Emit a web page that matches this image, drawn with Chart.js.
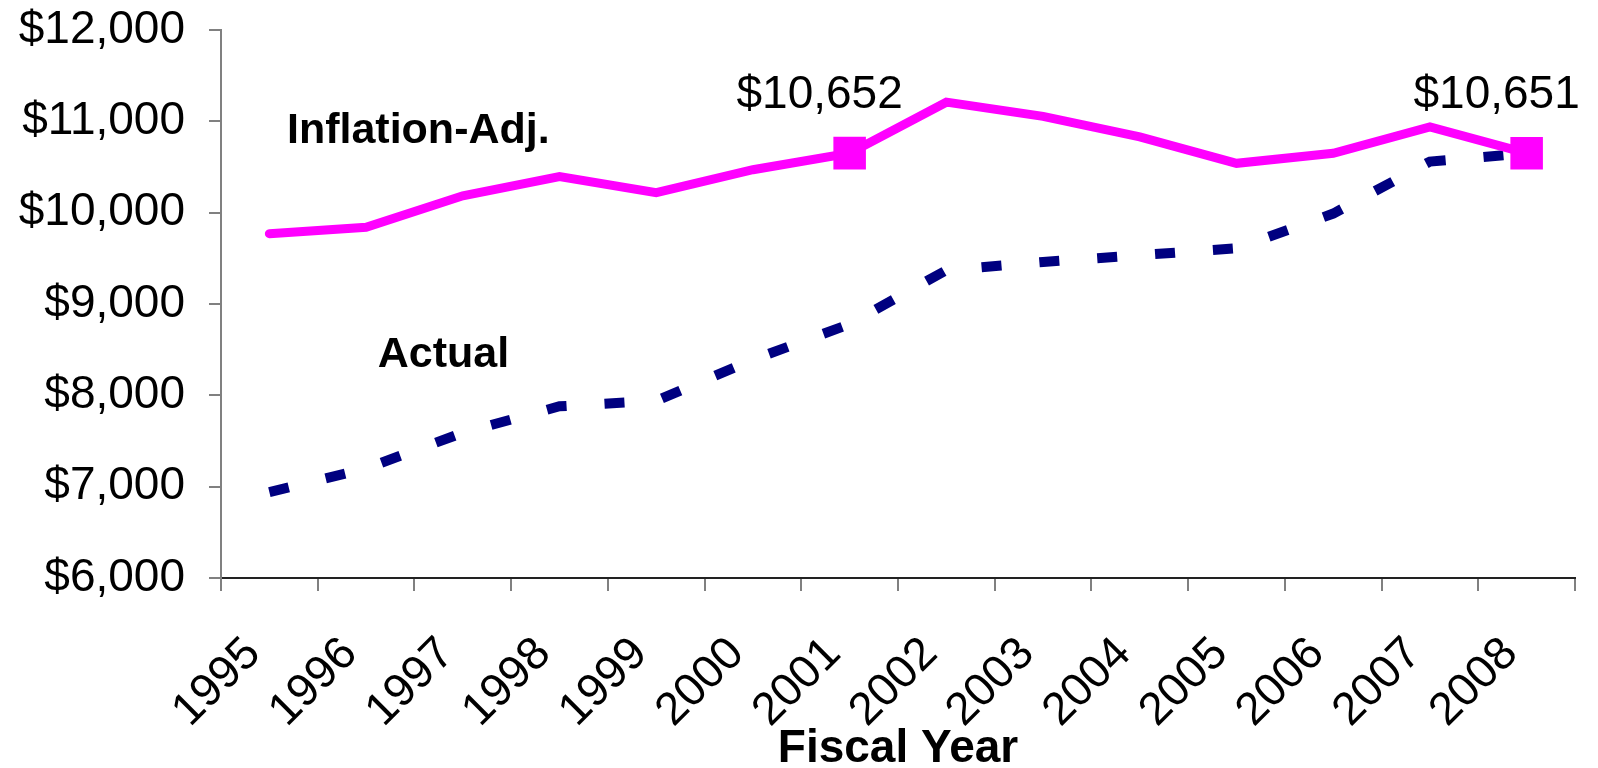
<!DOCTYPE html>
<html>
<head>
<meta charset="utf-8">
<title>Fiscal Year chart</title>
<script src="https://cdn.jsdelivr.net/npm/chart.js@4.4.1/dist/chart.umd.min.js"></script>
<style>
  html, body { margin: 0; padding: 0; background: #fff; }
</style>
</head>
<body>
<canvas id="lineChart" width="1598" height="768"></canvas>
<script>
// data
const years = ['1995', '1996', '1997', '1998', '1999', '2000', '2001',
               '2002', '2003', '2004', '2005', '2006', '2007', '2008'];
const inflationAdj = [9770, 9840, 10185, 10395, 10220, 10470, 10652,
                      11210, 11055, 10830, 10540, 10650, 10940, 10651];
const actual = [6940, 7200, 7590, 7880, 7940, 8390, 8780,
                9370, 9460, 9535, 9610, 9990, 10560, 10651];
const labelledYears = ['2001', '2008'];
const yMin = 6000;
const yMax = 12000;
const yStep = 1000;

const FONT = "'Liberation Sans', Arial, sans-serif";
const money = v => '$' + v.toLocaleString('en-US');

// text tags next to the lines (x as category index, y in dollars)
const seriesTags = [
    { text: 'Inflation-Adj.', at: 1.54, value: 10760 },
    { text: 'Actual', at: 1.80, value: 8310 }
];

const tagPlugin = {
    id: 'tags',
    afterDatasetsDraw(chart) {
        const ctx = chart.ctx;
        const x = chart.scales.x;
        const y = chart.scales.y;
        ctx.save();
        ctx.fillStyle = '#000';

        // bold series names
        ctx.font = 'bold 43px ' + FONT;
        ctx.textAlign = 'center';
        ctx.textBaseline = 'alphabetic';
        seriesTags.forEach(t => {
            ctx.fillText(t.text, x.getPixelForValue(t.at), y.getPixelForValue(t.value));
        });

        // value labels over the marked points
        ctx.font = '46px ' + FONT;
        const meta = chart.getDatasetMeta(0);
        years.forEach((yr, i) => {
            if (!labelledYears.includes(yr)) return;
            const pt = meta.data[i];
            ctx.fillText(money(inflationAdj[i]), pt.x - 30, pt.y - 45);
        });
        ctx.restore();
    }
};

const data = {
    labels: years,
    datasets: [{
        label: 'Inflation-Adj.',
        data: inflationAdj,
        borderColor: '#FF00FF',
        backgroundColor: '#FF00FF',
        borderWidth: 9,
        borderCapStyle: 'round',
        borderJoinStyle: 'miter',
        pointStyle: 'rect',
        pointRadius: years.map(yr => labelledYears.includes(yr) ? 23 : 0),
        pointBorderWidth: 0,
        pointBackgroundColor: '#FF00FF',
        tension: 0
    }, {
        label: 'Actual',
        data: actual,
        borderColor: '#000080',
        borderWidth: 10,
        borderDash: [20, 38],
        borderCapStyle: 'butt',
        borderJoinStyle: 'miter',
        pointRadius: 0,
        tension: 0
    }]
};

const options = {
    responsive: false,
    animation: false,
    devicePixelRatio: 1,
    layout: { padding: { top: 30, right: 20, bottom: 0, left: 0 } },
    plugins: {
        legend: { display: false },
        tooltip: { enabled: false }
    },
    scales: {
        x: {
            offset: true,
            grid: {
                offset: true,
                drawOnChartArea: false,
                tickLength: 13,
                color: '#808080',
                lineWidth: 2
            },
            border: { color: '#222', width: 2 },
            ticks: {
                autoSkip: false,
                minRotation: 45,
                maxRotation: 45,
                padding: 36,
                labelOffset: -16,
                color: '#000',
                font: { family: FONT, size: 46 }
            },
            title: {
                display: true,
                text: 'Fiscal Year',
                color: '#000',
                padding: 0,
                font: { family: FONT, size: 46, weight: 'bold', lineHeight: 0.8 }
            },
            afterFit(scale) {
                scale.height = 190;
                scale.paddingLeft = 0;
                scale.paddingRight = 0;
            }
        },
        y: {
            min: yMin,
            max: yMax,
            grid: {
                drawOnChartArea: false,
                tickLength: 12,
                color: '#808080',
                lineWidth: 2
            },
            border: { color: '#808080', width: 2 },
            ticks: {
                stepSize: yStep,
                padding: 24,
                color: '#000',
                font: { family: FONT, size: 46 },
                callback: v => money(v)
            },
            afterFit(scale) {
                scale.width = 221;
                scale.paddingTop = 0;
                scale.paddingBottom = 0;
            }
        }
    }
};

const ctx = document.getElementById('lineChart').getContext('2d');
const myChart = new Chart(ctx, {
    type: 'line',
    data: data,
    options: options,
    plugins: [tagPlugin]
});
</script>
</body>
</html>
